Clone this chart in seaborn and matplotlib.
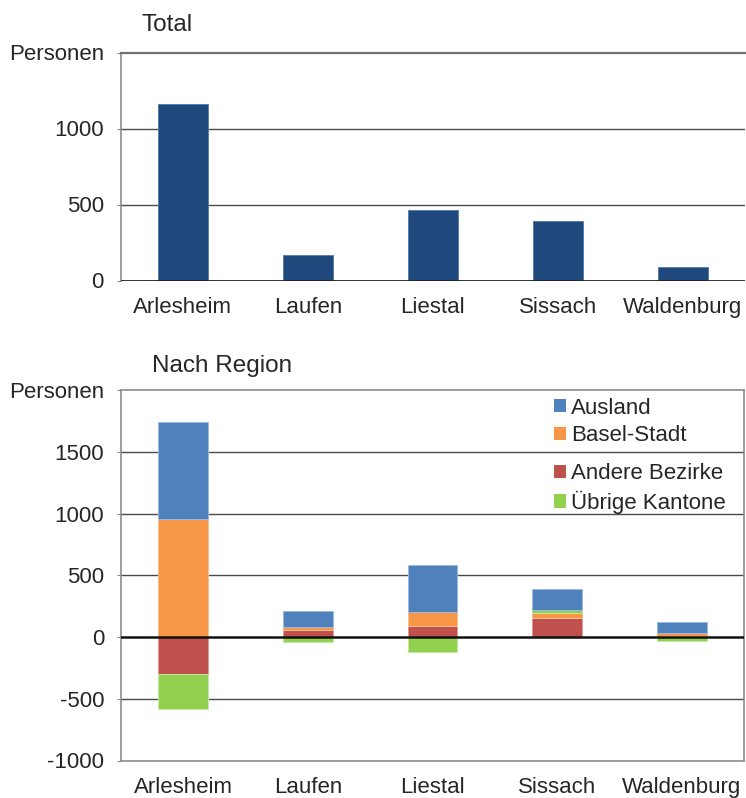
import numpy as np
import pandas as pd
import matplotlib
matplotlib.use("Agg")
import matplotlib.pyplot as plt
import seaborn as sns
from matplotlib.patches import Patch

# ---- data ----
bezirke = ["Arlesheim", "Laufen", "Liestal", "Sissach", "Waldenburg"]
total = [1163, 165, 462, 393, 92]

andere_bezirke = [-300, 54, 86, 151, 12]
basel_stadt = [959, 24, 113, 41, 20]
uebrige_kantone = [-281, -38, -119, 27, -32]
ausland = [783, 129, 384, 173, 86]

serien_namen = ["Andere Bezirke", "Basel-Stadt", "Übrige Kantone", "Ausland"]
serien_werte = [andere_bezirke, basel_stadt, uebrige_kantone, ausland]

top_ticks = [0, 500, 1000, 1500]
top_ticklabels = ["0", "500", "1000", "Personen"]
low_ticks = [-1000, -500, 0, 500, 1000, 1500, 2000]
low_ticklabels = ["-1000", "-500", "0", "500", "1000", "1500", "Personen"]

farben = {"Ausland": "#4F81BD", "Basel-Stadt": "#F79646",
          "Andere Bezirke": "#C0504D", "Übrige Kantone": "#92D050"}
kanten = {"Ausland": "#9DB9DE", "Basel-Stadt": "#F9C08F",
          "Andere Bezirke": "#E09A98", "Übrige Kantone": "#C3E9A0"}

sns.set_style("white")
plt.rcParams["font.family"] = ["Liberation Sans", "DejaVu Sans"]
FS = 16

W, H = 746, 798
fig = plt.figure(figsize=(W / 100, H / 100), dpi=100)

def frac(l, t, r, b):
    return [l / W, 1 - b / H, (r - l) / W, (b - t) / H]

ax1 = fig.add_axes(frac(120.5, 52.5, 745, 280.5))
ax2 = fig.add_axes(frac(121, 390, 744, 760.5))

grid_c = "#4a4a4a"
spine_c = "#8c8c8c"

# ---- top chart ----
df_top = pd.DataFrame({"Bezirk": bezirke, "Total": total})
sns.barplot(data=df_top, x="Bezirk", y="Total", color="#1F497D", saturation=1,
            width=0.4, edgecolor="#5A7FAE", linewidth=0.7, ax=ax1, zorder=3)
ax1.set_ylim(0, 1500)
ax1.set_yticks(top_ticks)
ax1.set_yticklabels(top_ticklabels)
for y in [500, 1000]:
    ax1.axhline(y, color=grid_c, lw=1.0, zorder=1)
ax1.axhline(0, color="#222222", lw=1.3, zorder=4)
for s in ["right", "bottom"]:
    ax1.spines[s].set_visible(False)
ax1.spines["left"].set_color(spine_c)
ax1.spines["left"].set_linewidth(1.2)
ax1.spines["top"].set_color("#707070")
ax1.spines["top"].set_linewidth(1.6)
ax1.set_xlabel("")
ax1.set_ylabel("")

# ---- lower chart ----
pos = np.zeros(len(bezirke))
neg = np.zeros(len(bezirke))
for name, vals in zip(serien_namen, serien_werte):
    vals = np.asarray(vals, dtype=float)
    bottom = np.where(vals >= 0, pos, neg)
    sns.barplot(x=bezirke, y=vals, bottom=bottom, color=farben[name],
                saturation=1, width=0.4, edgecolor=kanten[name], linewidth=0.7,
                ax=ax2, zorder=3)
    pos = pos + np.where(vals >= 0, vals, 0)
    neg = neg + np.where(vals < 0, vals, 0)

ax2.set_ylim(-1000, 2000)
ax2.set_yticks(low_ticks)
ax2.set_yticklabels(low_ticklabels)
for y in [-500, 500, 1000, 1500]:
    ax2.axhline(y, color=grid_c, lw=1.0, zorder=1)
ax2.axhline(0, color="#111111", lw=1.8, zorder=4)
for s in ax2.spines.values():
    s.set_color(spine_c)
    s.set_linewidth(1.2)
ax2.set_xlabel("")
ax2.set_ylabel("")

for ax in (ax1, ax2):
    ax.set_xlim(-0.5, 4.5)
    ax.tick_params(axis="y", labelsize=FS, length=3, color=spine_c, pad=9,
                   left=True, direction="out")
    ax.tick_params(axis="x", labelsize=FS, length=0, pad=12)
    ax.grid(False)

# legends (two groups, no frame)
h1 = [Patch(facecolor=farben[n], edgecolor="none") for n in ["Ausland", "Basel-Stadt"]]
h2 = [Patch(facecolor=farben[n], edgecolor="none") for n in ["Andere Bezirke", "Übrige Kantone"]]
leg_kw = dict(loc="upper left", frameon=False, fontsize=FS, handlelength=0.54,
              handleheight=0.54, handletextpad=0.22, labelspacing=0.3,
              borderpad=0, borderaxespad=0)
lg1 = ax2.legend(h1, ["Ausland", "Basel-Stadt"], bbox_to_anchor=(0.695, 0.9795), **leg_kw)
ax2.add_artist(lg1)
ax2.legend(h2, ["Andere Bezirke", "Übrige Kantone"], bbox_to_anchor=(0.695, 0.8027), **leg_kw)

# titles
fig.text(141 / W, 1 - 25 / H, "Total", fontsize=17.5, ha="left", va="center")
fig.text(152 / W, 1 - 366 / H, "Nach Region", fontsize=17.5, ha="left", va="center")

fig.savefig("out.png", dpi=100)
